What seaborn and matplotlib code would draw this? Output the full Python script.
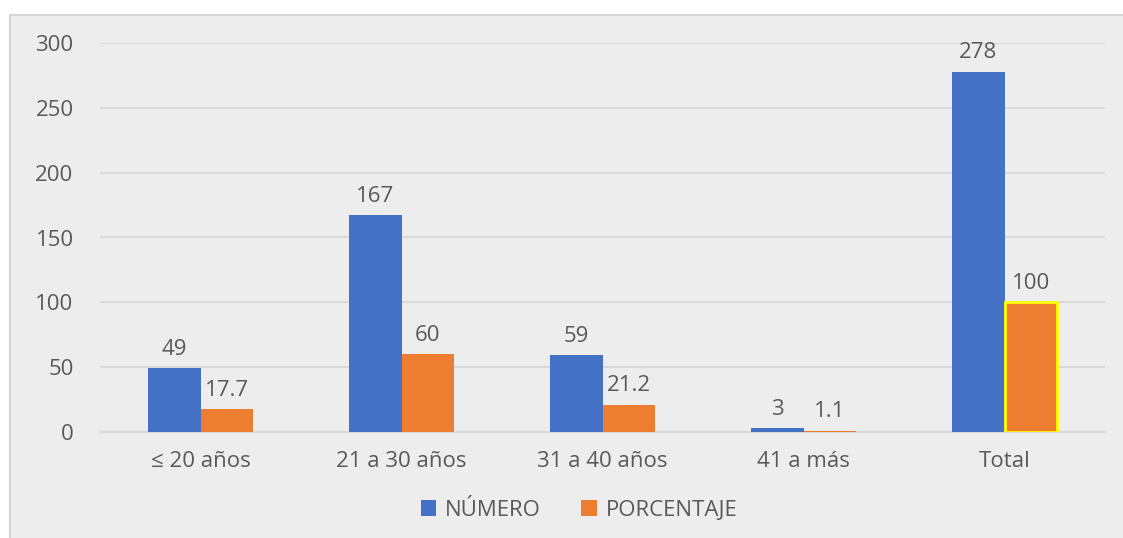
import pandas as pd
import matplotlib.pyplot as plt
import seaborn as sns
from matplotlib.patches import Rectangle

categorias = ["≤ 20 años", "21 a 30 años", "31 a 40 años", "41 a más", "Total"]
numero = [49, 167, 59, 3, 278]
porcentaje = [17.7, 60, 21.2, 1.1, 100]
etiquetas_pct = ["17.7", "60", "21.2", "1.1", "100"]
series = ["NÚMERO", "PORCENTAJE"]

df = pd.DataFrame({
    "grupo": categorias * 2,
    "valor": numero + porcentaje,
    "serie": [series[0]] * len(categorias) + [series[1]] * len(categorias),
})

sns.set_style("white")
plt.rcParams['font.family'] = ['Open Sans', 'DejaVu Sans']
gris = "#595959"
fondo = "#ededed"
fs = 16

fig = plt.figure(figsize=(11.23, 5.38), dpi=100)
fig.patch.set_facecolor("white")
# chart frame (grey box)
fig.patches.append(Rectangle((10 / 1123, -0.01), 1.02, (538 - 15) / 538 + 0.01,
                             transform=fig.transFigure, facecolor=fondo,
                             edgecolor="#d6d6d6", lw=1.5, zorder=-10))

ax = fig.add_axes([100 / 1123, 106 / 538, 1005 / 1123, 389 / 538])
ax.set_facecolor("none")

sns.barplot(data=df, x="grupo", y="valor", hue="serie", order=categorias,
            hue_order=series, palette=["#4472C4", "#ED7D31"], width=0.52,
            saturation=1, linewidth=0, ax=ax, zorder=3, legend=True)

# yellow outline on the Total percentage bar
cont_pct = ax.containers[1]
cont_pct.patches[-1].set_edgecolor("#FFFF00")
cont_pct.patches[-1].set_linewidth(2)

ax.bar_label(ax.containers[0], labels=[str(v) for v in numero], padding=6,
             fontsize=fs, color=gris)
ax.bar_label(cont_pct, labels=etiquetas_pct, padding=6, fontsize=fs, color=gris)

ax.set_ylim(0, 300)
ax.set_yticks(range(0, 301, 50))
ax.yaxis.grid(True, color="#d9d9d9", lw=1.5, zorder=0)
ax.set_axisbelow(True)
for s in ["top", "right", "left"]:
    ax.spines[s].set_visible(False)
ax.spines["bottom"].set_color("#d9d9d9")
ax.spines["bottom"].set_linewidth(1.5)
ax.tick_params(axis="both", length=0, labelsize=fs, labelcolor=gris)
ax.tick_params(axis="y", pad=19)
ax.tick_params(axis="x", pad=14)
ax.set_xlabel("")
ax.set_ylabel("")

leg = ax.legend(loc="center", bbox_to_anchor=(579 / 1123, 28 / 538),
                bbox_transform=fig.transFigure, ncol=2, frameon=False,
                fontsize=fs, handlelength=0.7, handleheight=0.7,
                columnspacing=1.8, handletextpad=0.4)
for t in leg.get_texts():
    t.set_color(gris)

fig.savefig("out.png", dpi=100)
